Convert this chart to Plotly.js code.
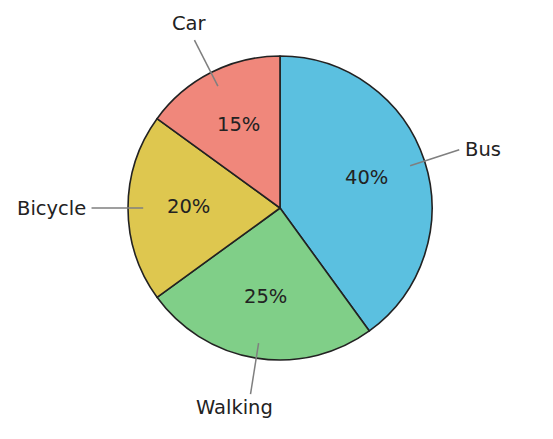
<!DOCTYPE html>
<html>
<head>
<meta charset="utf-8">
<script src="https://cdn.plot.ly/plotly-3.0.1.min.js"></script>
<style>
  html, body { margin: 0; padding: 0; background: #ffffff; }
  #chart { width: 553px; height: 439px; }
</style>
</head>
<body>
<div id="chart"></div>
<script>
// Chart data.
const modes = ['Bus', 'Walking', 'Bicycle', 'Car'];
const shares = [40, 25, 20, 15];
const sliceColors = ['#5bc0e0', '#80cf88', '#dec74f', '#f0877b'];

// Small nudges for the outer labels (pixels).
const labelNudgeX = { Bus: 4, Walking: -16, Bicycle: -4, Car: -5 };
const labelNudgeY = { Bus: 0, Walking: 0, Bicycle: 0, Car: 3 };

const FONT = { family: 'DejaVu Sans, sans-serif', size: 19.5, color: '#222222' };

// Plot area is a 304px square, so the pie fills it: centre (0.5, 0.5), radius 0.5 in paper units.
const R = 0.5;
const total = shares.reduce((a, b) => a + b, 0);

const shapes = [];
const annotations = [];
let start = 0;
shares.forEach((v, i) => {
    const mid = (start + v / 2) / total * 2 * Math.PI;  // clockwise from 12 o'clock
    start += v;
    const dx = Math.sin(mid), dy = Math.cos(mid);

    // Percentage inside the slice.
    annotations.push({
        xref: 'paper', yref: 'paper',
        x: 0.5 + 0.6 * R * dx, y: 0.5 + 0.6 * R * dy,
        text: Math.round(v / total * 100) + '%',
        showarrow: false, font: FONT,
        xanchor: 'center', yanchor: 'middle', yshift: 2
    });

    // Leader line from inside the slice out past the edge.
    shapes.push({
        type: 'line', xref: 'paper', yref: 'paper',
        x0: 0.5 + 0.9 * R * dx, y0: 0.5 + 0.9 * R * dy,
        x1: 0.5 + 1.24 * R * dx, y1: 0.5 + 1.24 * R * dy,
        line: { color: '#7f7f7f', width: 1.5 }
    });

    // Category label at the end of the line.
    const side = Math.abs(dx) > 0.8;
    annotations.push({
        xref: 'paper', yref: 'paper',
        x: 0.5 + 1.24 * R * dx, y: 0.5 + 1.24 * R * dy,
        text: modes[i],
        showarrow: false, font: FONT,
        xanchor: side ? (dx > 0 ? 'left' : 'right') : 'center',
        yanchor: side ? 'middle' : (dy > 0 ? 'bottom' : 'top'),
        xshift: labelNudgeX[modes[i]] || 0,
        yshift: labelNudgeY[modes[i]] || 0
    });
});

Plotly.newPlot('chart', [{
    type: 'pie',
    labels: modes,
    values: shares,
    sort: false,
    direction: 'clockwise',
    rotation: 0,
    textinfo: 'none',
    hoverinfo: 'label+percent',
    marker: { colors: sliceColors, line: { color: '#222222', width: 1.6 } },
    domain: { x: [0, 1], y: [0, 1] }
}], {
    width: 553,
    height: 439,
    margin: { l: 128, r: 121, t: 56, b: 79, pad: 0 },
    paper_bgcolor: '#ffffff',
    plot_bgcolor: '#ffffff',
    showlegend: false,
    shapes: shapes,
    annotations: annotations
}, { displayModeBar: false, staticPlot: true });
</script>
</body>
</html>
